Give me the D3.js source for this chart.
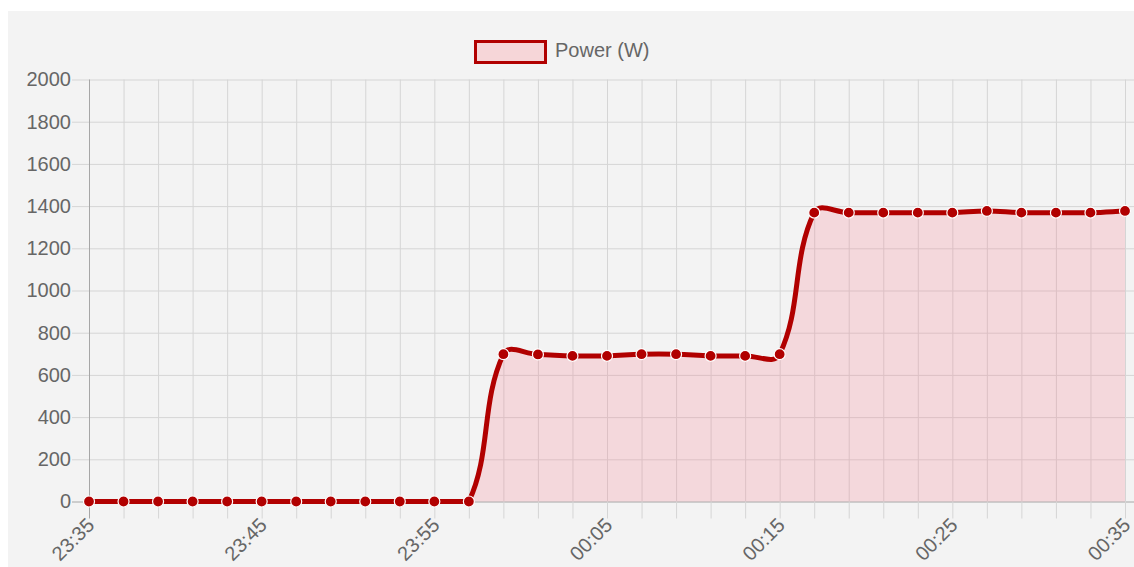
<!DOCTYPE html>
<html>
<head>
<meta charset="utf-8">
<script src="https://cdn.jsdelivr.net/npm/d3@7"></script>
<style>
  html, body { margin: 0; padding: 0; background: #ffffff; }
  svg { display: block; }
  text { font-family: "Liberation Sans", Arial, Helvetica, sans-serif; }
</style>
</head>
<body>
<svg id="chart" width="1134" height="567"></svg>
<script>
// ---- data ----
const times = [
  "23:35","23:37","23:39","23:41","23:43","23:45","23:47","23:49","23:51","23:53",
  "23:55","23:57","23:59","00:01","00:03","00:05","00:07","00:09","00:11","00:13",
  "00:15","00:17","00:19","00:21","00:23","00:25","00:27","00:29","00:31","00:33",
  "00:35"
];
const power = [
  0, 0, 0, 0, 0, 0, 0, 0, 0, 0,
  0, 0, 698, 697, 690, 690, 698, 698, 690, 690,
  698, 1369, 1369, 1369, 1369, 1369, 1377, 1369, 1369, 1369,
  1377
];
const yTicks = [0, 200, 400, 600, 800, 1000, 1200, 1400, 1600, 1800, 2000];
const xLabels = ["23:35", "23:45", "23:55", "00:05", "00:15", "00:25", "00:35"];
const seriesName = "Power (W)";

// ---- layout ----
const W = 1134, H = 567;
const area = { left: 89, right: 1125, top: 79.5, bottom: 501.5 };
const lineColor = "#b10000";
const fillColor = "rgba(248, 130, 145, 0.24)";
const gridColor = "#d5d5d5";
const axisColor = "#a6a6a6";
const textColor = "#666666";
const fontSize = "20px";

const svg = d3.select("#chart");

// panel background
svg.append("rect").attr("x", 8).attr("y", 11).attr("width", W - 8).attr("height", H - 11)
  .attr("fill", "#f3f3f3");

const x = d3.scalePoint().domain(times).range([area.left, area.right]);
const y = d3.scaleLinear().domain([0, 2000]).range([area.bottom, area.top]);

// Horizontal gridlines + y labels
const yAxis = d3.axisLeft(y).tickValues(yTicks).tickSize(-(W - area.left)).tickPadding(0).tickFormat(d3.format("d"));
const gy = svg.append("g").attr("transform", `translate(${area.left},0)`).call(yAxis);
gy.select(".domain").remove();
gy.selectAll(".tick line")
  .attr("x1", -17)
  .attr("stroke", d => d === 0 ? axisColor : gridColor)
  .attr("stroke-width", 1);
gy.selectAll(".tick text")
  .attr("x", -18)
  .attr("fill", textColor)
  .style("font-size", fontSize)
  .style("font-family", "'Liberation Sans', Arial, sans-serif");

// Vertical gridlines + x labels
const xAxis = d3.axisBottom(x).tickValues(times).tickSize(0)
  .tickFormat(d => xLabels.includes(d) ? d : "");
const gx = svg.append("g").attr("transform", `translate(0,${area.bottom})`).call(xAxis);
gx.select(".domain").remove();
gx.selectAll(".tick line")
  .attr("y1", area.top - area.bottom)
  .attr("y2", 17)
  .attr("stroke", (d, i) => i === 0 ? axisColor : gridColor)
  .attr("stroke-width", 1);
gx.selectAll(".tick text")
  .attr("fill", textColor)
  .style("font-size", fontSize)
  .style("font-family", "'Liberation Sans', Arial, sans-serif")
  .attr("text-anchor", "end")
  .attr("dy", null)
  .attr("y", null)
  .attr("transform", "translate(6,25) rotate(-45)");

// ---- Chart.js-style spline curve (tension 0.4, capped to chart area) ----
function ChartJSCurve(context) { this._context = context; }
ChartJSCurve.prototype = {
  areaStart() { this._line = 0; },
  areaEnd() { this._line = NaN; },
  lineStart() { this._x = []; this._y = []; },
  point(px, py) { this._x.push(+px); this._y.push(+py); },
  lineEnd() {
    const xs = this._x, ys = this._y, n = xs.length, ctx = this._context, t = 0.4;
    if (n) {
      if (this._line) ctx.lineTo(xs[0], ys[0]); else ctx.moveTo(xs[0], ys[0]);
      const cp = [];
      for (let i = 0; i < n; i++) {
        const px = xs[Math.max(i - 1, 0)], py = ys[Math.max(i - 1, 0)];
        const cx = xs[i], cy = ys[i];
        const nx = xs[Math.min(i + 1, n - 1)], ny = ys[Math.min(i + 1, n - 1)];
        const d01 = Math.hypot(cx - px, cy - py);
        const d12 = Math.hypot(nx - cx, ny - cy);
        let s01 = d01 / (d01 + d12), s12 = d12 / (d01 + d12);
        if (!isFinite(s01)) s01 = 0;
        if (!isFinite(s12)) s12 = 0;
        const fa = t * s01, fb = t * s12;
        const clampX = v => Math.max(area.left, Math.min(area.right, v));
        const clampY = v => Math.max(area.top, Math.min(area.bottom, v));
        cp.push({
          px: clampX(cx - fa * (nx - px)), py: clampY(cy - fa * (ny - py)),
          nx: clampX(cx + fb * (nx - px)), ny: clampY(cy + fb * (ny - py))
        });
      }
      for (let i = 1; i < n; i++) {
        ctx.bezierCurveTo(cp[i - 1].nx, cp[i - 1].ny, cp[i].px, cp[i].py, xs[i], ys[i]);
      }
    }
    if (this._line || (this._line !== 0 && n === 1)) ctx.closePath();
    this._line = 1 - this._line;
  }
};
const chartjsCurve = ctx => new ChartJSCurve(ctx);

const data = times.map((t, i) => ({ t, v: power[i] }));

const areaGen = d3.area().x(d => x(d.t)).y0(y(0)).y1(d => y(d.v)).curve(chartjsCurve);
const lineGen = d3.line().x(d => x(d.t)).y(d => y(d.v)).curve(chartjsCurve);

svg.append("path").datum(data).attr("d", areaGen).attr("fill", fillColor);
svg.append("path").datum(data).attr("d", lineGen)
  .attr("fill", "none").attr("stroke", lineColor).attr("stroke-width", 5)
  .attr("stroke-linejoin", "round");

svg.append("g").selectAll("circle").data(data).join("circle")
  .attr("cx", d => x(d.t)).attr("cy", d => y(d.v)).attr("r", 5.5)
  .attr("fill", lineColor).attr("stroke", "#ffffff").attr("stroke-width", 1.2);

// ---- legend ----
const lg = svg.append("g");
lg.append("rect").attr("x", 475.5).attr("y", 41.5).attr("width", 70).attr("height", 21)
  .attr("fill", "#f6d6d8").attr("stroke", lineColor).attr("stroke-width", 3);
lg.append("text").attr("x", 555).attr("y", 50).attr("dy", "0.35em")
  .attr("fill", textColor).style("font-size", fontSize).text(seriesName);
</script>
</body>
</html>
